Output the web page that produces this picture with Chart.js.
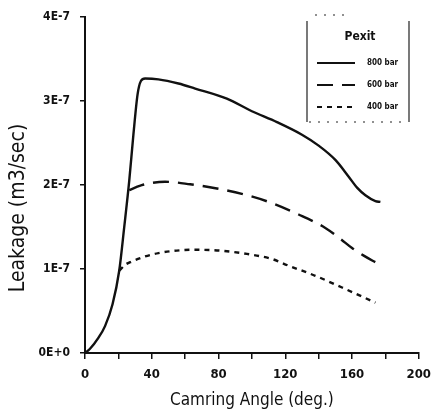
<!DOCTYPE html>
<html>
<head>
<meta charset="utf-8">
<script src="https://cdn.jsdelivr.net/npm/chart.js@4.4.0/dist/chart.umd.min.js"></script>
<style>
  body { margin: 0; background: #fff; }
</style>
</head>
<body>
<canvas id="leakChart" width="439" height="419"></canvas>
<script>
// values, leakage in units of 1E-7 m3/sec
var legendTitle = 'Pexit';
var seriesNames = ['800 bar', '600 bar', '400 bar'];

var angle800 = [0, 3, 8, 12, 16.5, 20.5, 23.5, 26.5, 29, 31.5, 33.5, 36, 44, 56, 66, 85, 100, 115, 130, 140, 150, 158, 163, 168, 174, 177];
var leak800  = [0, 0.05, 0.18, 0.32, 0.58, 0.98, 1.5, 2.05, 2.6, 3.08, 3.24, 3.27, 3.26, 3.21, 3.15, 3.03, 2.88, 2.75, 2.6, 2.47, 2.3, 2.1, 1.97, 1.88, 1.81, 1.8];

var angle600 = [26.5, 30, 34, 48, 63, 79, 97, 110, 128, 144, 153, 160, 167, 175];
var leak600  = [1.94, 1.97, 2.0, 2.04, 2.01, 1.96, 1.88, 1.8, 1.65, 1.49, 1.36, 1.25, 1.16, 1.07];

var angle400 = [20.5, 24, 28, 36, 44, 55, 66, 81, 97, 112, 122, 138, 154, 174];
var leak400  = [0.98, 1.05, 1.09, 1.15, 1.19, 1.22, 1.23, 1.22, 1.18, 1.12, 1.04, 0.92, 0.78, 0.6];

var xTicks = [0, 40, 80, 120, 160, 200];
var yTickLabels = ['0E+0', '1E-7', '2E-7', '3E-7', '4E-7'];

var fontFam = '"DejaVu Sans Condensed", "Liberation Sans Narrow", sans-serif';

function toPoints(xs, ys) {
    return xs.map(function(x, i) { return { x: x, y: ys[i] }; });
}

var lineStyle = {
    borderColor: '#111',
    borderWidth: 2.4,
    pointRadius: 0,
    fill: false,
    cubicInterpolationMode: 'monotone'
};

// y axis title and the boxed legend
var extras = {
    id: 'extras',
    afterDraw: function(chart) {
        var ctx = chart.ctx;
        ctx.save();
        ctx.fillStyle = '#111';
        ctx.font = '21px ' + fontFam;
        ctx.translate(19, 208);
        ctx.rotate(-Math.PI / 2);
        ctx.textAlign = 'center';
        ctx.textBaseline = 'middle';
        ctx.fillText('Leakage (m3/sec)', 0, 0);
        ctx.restore();

        var bx = 307, by = 15, bw = 102, bh = 107;
        ctx.save();
        ctx.strokeStyle = '#222';
        ctx.lineWidth = 1.2;
        ctx.beginPath();
        ctx.moveTo(bx, by + 6); ctx.lineTo(bx, by + bh);
        ctx.moveTo(bx + bw, by + 6); ctx.lineTo(bx + bw, by + bh);
        ctx.stroke();
        ctx.setLineDash([2, 7]);
        ctx.beginPath();
        ctx.moveTo(bx + 8, by); ctx.lineTo(bx + 40, by);
        ctx.moveTo(bx + 2, by + bh); ctx.lineTo(bx + bw - 2, by + bh);
        ctx.stroke();
        ctx.setLineDash([]);

        ctx.fillStyle = '#111';
        ctx.font = 'bold 12px ' + fontFam;
        ctx.textAlign = 'center';
        ctx.textBaseline = 'middle';
        ctx.fillText(legendTitle, bx + bw / 2 + 2, by + 22);

        ctx.font = 'bold 8px ' + fontFam;
        ctx.textAlign = 'left';
        chart.data.datasets.forEach(function(ds, i) {
            var ly = by + 48 + i * 22;
            ctx.strokeStyle = '#111';
            ctx.lineWidth = 2;
            ctx.setLineDash(ds.borderDash || []);
            ctx.beginPath();
            ctx.moveTo(bx + 10, ly);
            ctx.lineTo(bx + 48, ly);
            ctx.stroke();
            ctx.setLineDash([]);
            ctx.fillText(ds.label, bx + 60, ly);
        });
        ctx.restore();
    }
};

var chart = new Chart(document.getElementById('leakChart'), {
    type: 'line',
    data: {
        datasets: [
            Object.assign({ label: seriesNames[0], data: toPoints(angle800, leak800), borderDash: [] }, lineStyle),
            Object.assign({ label: seriesNames[1], data: toPoints(angle600, leak600), borderDash: [16, 9] }, lineStyle),
            Object.assign({ label: seriesNames[2], data: toPoints(angle400, leak400), borderDash: [5, 5] }, lineStyle)
        ]
    },
    options: {
        responsive: false,
        animation: false,
        layout: { padding: { top: 13, right: 13, left: 0, bottom: 0 } },
        plugins: {
            legend: { display: false },
            tooltip: { enabled: false }
        },
        scales: {
            x: {
                type: 'linear',
                min: 0,
                max: 200,
                afterFit: function(s) { s.height = 66; },
                border: { display: true, color: '#111', width: 2 },
                grid: { display: true, drawOnChartArea: false, drawTicks: true, tickLength: 6, color: '#111', lineWidth: 1.5 },
                ticks: {
                    stepSize: 20,
                    padding: 8,
                    maxRotation: 0,
                    color: '#111',
                    font: { family: fontFam, size: 13, weight: 'bold' },
                    callback: function(v) { return xTicks.indexOf(v) >= 0 ? String(v) : ''; }
                },
                title: {
                    display: true,
                    text: 'Camring Angle (deg.)',
                    color: '#111',
                    font: { family: fontFam, size: 17 },
                    padding: { top: 0, bottom: 8 }
                }
            },
            y: {
                type: 'linear',
                min: 0,
                max: 4,
                afterFit: function(s) { s.width = 85; },
                border: { display: true, color: '#111', width: 2 },
                grid: { display: true, drawOnChartArea: false, drawTicks: true, tickLength: 5, color: '#111', lineWidth: 1.5 },
                ticks: {
                    stepSize: 1,
                    padding: 10,
                    color: '#111',
                    font: { family: fontFam, size: 12, weight: 'bold' },
                    callback: function(v) { return yTickLabels[Math.round(v)]; }
                }
            }
        }
    },
    plugins: [extras]
});
</script>
</body>
</html>
